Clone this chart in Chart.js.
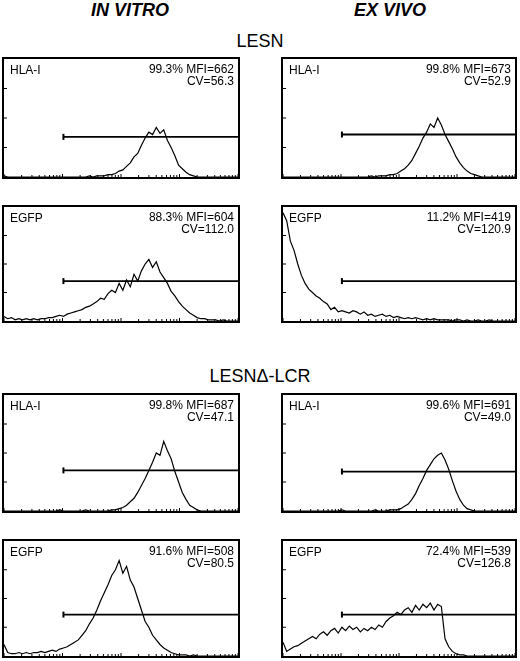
<!DOCTYPE html>
<html><head><meta charset="utf-8">
<script src="https://cdn.jsdelivr.net/npm/chart.js@4"></script>
<style>
body{margin:0;width:520px;height:661px;background:#fff;position:relative;font-family:"Liberation Sans",Arial,sans-serif;overflow:hidden}
.t{position:absolute;text-align:center;color:#000}
.p{position:absolute;box-sizing:border-box;border:2px solid #000}
.cw{position:absolute;left:0;top:0;right:0;bottom:0}
.lab{position:absolute;font-size:12px;left:6px;top:4px}
.st{position:absolute;font-size:12px;right:4px;top:4px;text-align:right;line-height:12px}
</style></head><body>
<div class="t" style="left:30px;width:200px;top:0px;font-size:18px;font-weight:bold;font-style:italic">IN VITRO</div>
<div class="t" style="left:290px;width:200px;top:0px;font-size:18px;font-weight:bold;font-style:italic">EX VIVO</div>
<div class="t" style="left:160px;width:200px;top:31px;font-size:18px">LESN</div>
<div class="t" style="left:160px;width:200px;top:366px;font-size:18px">LESNΔ-LCR</div>
<script>
const p1=[1,0,0,0,0,0,0,0,0,0, 0,0,0,0,0,0,0,0,0,0, 0,0,0,1,0,1,1,1,2,2, 3,5,6,9,12,17,20,27,33,38, 36,42,37,40,31,25,18,10,7,4, 2,1,0,0,0,0,0,0,0,0, 0,0,0,0];
const p2=[4,2,3,1,2,1,2, 1,2,1,2,2,3, 3,4,5,4,6,7, 8,9,10,12,13,15, 17,20,19,24,27, 25,33,27,36,30,41, 35,44,50,54,47,52, 43,38,33,26,22,17, 13,10,7,5,3,2, 2,1,1,1,0,1,0,0,0,0];
const p3=[0,0,0,0,0,0,0,0,0,0, 0,0,0,0,0,0,0,0,0,0, 0,0,0,0,1,0,1,1, 1,2,2,3, 5,7,10,14,20,26,33,38,45,42,50,44,36,30,24,17,12,8,5,3,2,1, 0,0,0,0,0,0,0,0,0,0];
const p4=[95,88,70,62,50,40,33,28,25,22,20,17,15,10,12,8,9,8,7,9,8,6,8,5,6,4,5,6,4,5,3,4,3,2,3,2,3,2,1,2,1,2,1,1,1,1,0,1,1,0,1,0, 0,1,0,0,1,0,0,0,0,0,0,0];
const p5=[0,0,0,0,0,0,0,0,0,0, 0,0,0,0,0,1,0,0,0,0, 0,0,1,0,0,0,0,0,0,1, 1,2, 3,5,8,11,16,22,28,35,42,50,48,60,52,45,34,25,16,10,5,3,1, 0,0,0,0,0,0,0,0,0,0,0];
const p6=[10,3,2,2,3,2,3,2,3,3,4,3,4,5,4,6,7,8,10,12,14,18,22,28,33,40,48,55,62,70,75,83,72,78,66,60,50,40,30,25,18,14,10,7,5,3,2,1,1,1,0,1, 0,0,0,0,0,0,0,0,0,0,0,0];
const p7=[0,0,0,0,0,0,0,0,0,0, 0,0,0,0,0,0,1,0,0,0, 0,0,0,0,0,1,0,0,0,1, 1,1,2, 4,6,10,15,22,28,35,40,45,48,50,44,36,26,17,10,5,2,1, 0,0,0,0,0,0,0,0,0,0,0,0];
const p8=[12,4,6,8,9,11,13,15,17,15,19,21,18,22,24,20,25,22,26,23,25,21,24,22,25,23,27,25,30,33,35,38,36,40,42,38,44,40,45,42,46,40,45,43,15,8,4,2,1,1, 0,0,0,0,0,0,0,0,0,0,0,0,0,0];
const markers=["HLA-I","EGFP","HLA-I","EGFP","HLA-I","EGFP","HLA-I","EGFP"];
const stats=[["99.3% MFI=662","CV=56.3"],["88.3% MFI=604","CV=112.0"],["99.8% MFI=673","CV=52.9"],["11.2% MFI=419","CV=120.9"],
["99.8% MFI=687","CV=47.1"],["91.6% MFI=508","CV=80.5"],["99.6% MFI=691","CV=49.0"],["72.4% MFI=539","CV=126.8"]];
const gateStart=[16,16,16,16,16,16,16,16];
const gateLevel=[34,35,36,35,35,36,34,36];
const series=[p1,p2,p3,p4,p5,p6,p7,p8];
const boxes=[[2,57,238,122],[2,205,238,118],[281,57,236,122],[281,205,236,118],[2,393,238,120],[2,539,238,119],[281,393,236,120],[281,539,236,119]];
const decades=[1,2,3,4,5,6,7,8,9,10,20,30,40,50,60,70,80,90,100,200,300,400,500,600,700,800,900,1000,2000,3000,4000,5000,6000,7000,8000,9000,10000];
const yTicks=[25,50,75];
const deco={id:'deco',afterDraw(c){const x=c.ctx,L=c.scales.xl,Y=c.scales.y;
const l=L.getPixelForValue(1),bt=Y.getPixelForValue(0);
x.save();x.strokeStyle='#000';
x.lineWidth=1;x.beginPath();decades.forEach(v=>{const px=L.getPixelForValue(v);const big=[1,10,100,1000,10000].includes(v);x.moveTo(px,bt);x.lineTo(px,bt-(big?3:2));});
yTicks.forEach(v=>{const py=Y.getPixelForValue(v);x.moveTo(l,py);x.lineTo(l+3,py);});x.stroke();x.restore();}};
series.forEach((d,k)=>{const b=boxes[k];const div=document.createElement('div');div.className='p';
div.style.cssText=`left:${b[0]}px;top:${b[1]}px;width:${b[2]}px;height:${b[3]}px`;
div.innerHTML=`<div class="cw"><canvas></canvas></div><div class="lab">${markers[k]}</div><div class="st">${stats[k][0]}<br>${stats[k][1]}</div>`;
document.body.appendChild(div);
const xs=d.map((v,i)=>({x:i,y:v}));
new Chart(div.querySelector('canvas'),{type:'line',data:{datasets:[
{data:xs,borderColor:'#000',borderWidth:1.2,pointRadius:0,tension:0,fill:false,clip:0},
{data:[{x:gateStart[k],y:gateLevel[k]},{x:63,y:gateLevel[k]}],borderColor:'#000',borderWidth:1.8,pointRadius:[3,0],pointStyle:'line',pointBorderWidth:2,rotation:90,clip:0}]},
options:{responsive:true,maintainAspectRatio:false,animation:false,layout:{padding:0,autoPadding:false},plugins:{legend:{display:false},tooltip:{enabled:false}},
scales:{x:{type:'linear',min:0,max:63,display:false},xl:{type:'logarithmic',min:1,max:10000,display:false},y:{min:0,max:100,display:false}}},
plugins:[deco]});});
</script></body></html>
